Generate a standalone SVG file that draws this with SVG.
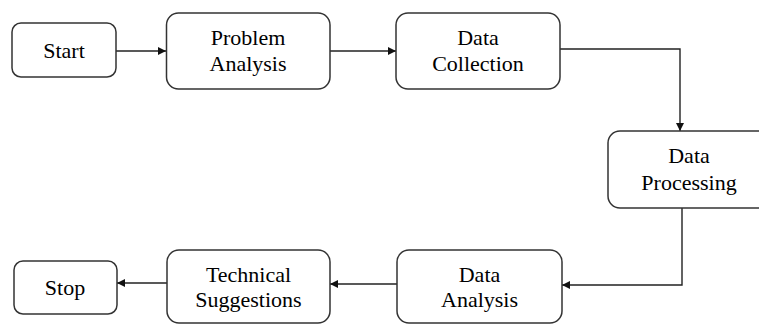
<svg xmlns="http://www.w3.org/2000/svg" width="759" height="324" viewBox="0 0 759 324">
<defs>
<marker id="arr" viewBox="0 0 10 10" refX="10" refY="5" markerWidth="9" markerHeight="8" markerUnits="userSpaceOnUse" orient="auto">
<path d="M0,0 L10,5 L0,10 z" fill="#111"/>
</marker>
</defs>
<rect width="759" height="324" fill="#fff"/>
<g id="connectors" fill="none" stroke="#222" stroke-width="1.4" marker-end="url(#arr)">
<path d="M116,51 H166"/>
<path d="M330,51 H396"/>
<path d="M560,49 H680 V131"/>
<path d="M682,208 V285 H562"/>
<path d="M397,284 H330"/>
<path d="M167,283 H117"/>
</g>
<g id="start">
<rect x="12" y="23" width="104" height="54" rx="9" fill="#fff" stroke="#333" stroke-width="1.5"/>
<text x="64" y="58" font-family="Liberation Serif" font-size="22" text-anchor="middle">Start</text>
</g>
<g id="problem-analysis">
<rect x="166.5" y="13" width="163.5" height="76" rx="12" fill="#fff" stroke="#333" stroke-width="1.5"/>
<text x="248" y="45" font-family="Liberation Serif" font-size="22" text-anchor="middle">Problem</text>
<text x="248" y="71" font-family="Liberation Serif" font-size="22" text-anchor="middle">Analysis</text>
</g>
<g id="data-collection">
<rect x="396" y="13" width="164" height="76" rx="12" fill="#fff" stroke="#333" stroke-width="1.5"/>
<text x="478" y="45" font-family="Liberation Serif" font-size="22" text-anchor="middle">Data</text>
<text x="478" y="71" font-family="Liberation Serif" font-size="22" text-anchor="middle">Collection</text>
</g>
<g id="data-processing">
<rect x="608" y="131" width="162" height="77" rx="12" fill="#fff" stroke="#333" stroke-width="1.5"/>
<text x="689" y="163" font-family="Liberation Serif" font-size="22" text-anchor="middle">Data</text>
<text x="689" y="190" font-family="Liberation Serif" font-size="22" text-anchor="middle">Processing</text>
</g>
<g id="data-analysis">
<rect x="397" y="250" width="165" height="73" rx="12" fill="#fff" stroke="#333" stroke-width="1.5"/>
<text x="479.5" y="282" font-family="Liberation Serif" font-size="22" text-anchor="middle">Data</text>
<text x="479.5" y="307" font-family="Liberation Serif" font-size="22" text-anchor="middle">Analysis</text>
</g>
<g id="technical-suggestions">
<rect x="167" y="250" width="163" height="73" rx="12" fill="#fff" stroke="#333" stroke-width="1.5"/>
<text x="248.5" y="282" font-family="Liberation Serif" font-size="22" text-anchor="middle">Technical</text>
<text x="248.5" y="307" font-family="Liberation Serif" font-size="22" text-anchor="middle">Suggestions</text>
</g>
<g id="stop">
<rect x="14" y="261" width="103" height="53" rx="9" fill="#fff" stroke="#333" stroke-width="1.5"/>
<text x="65" y="295" font-family="Liberation Serif" font-size="22" text-anchor="middle">Stop</text>
</g>
</svg>
